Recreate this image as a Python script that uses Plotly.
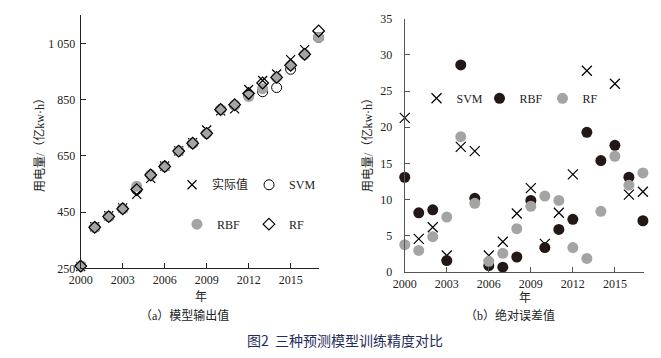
import plotly.graph_objects as go

# ---------------- data ----------------
years = list(range(2000, 2018))

# (a) model outputs, 亿kw·h
actual = [256, 398, 437, 465, 513, 570, 614, 668, 697, 742, 810, 817, 886, 918, 941, 992, 1028, 1075]
svm = [258, 396, 434, 462, 530, 582, 612, 667, 695, 730, 815, 830, 866, 878, 893, 958, 1011, 1071]
rbf = [258, 396, 434, 462, 542, 582, 612, 667, 695, 730, 815, 830, 861, 889, 929, 972, 1011, 1071]
rf = [258, 396, 434, 462, 530, 582, 612, 667, 695, 730, 815, 832, 872, 909, 929, 972, 1011, 1094]

# (b) absolute errors
svm_err = [21.3, 4.6, 6.2, 2.3, 17.3, 16.7, 2.3, 4.2, 8.1, 11.6, 3.9, 8.2, 13.5, 27.8, None, 26.0, 10.7, 11.1]
rbf_err = [13.1, 8.2, 8.6, 1.6, 28.6, 10.2, 0.9, 0.7, 2.1, 9.9, 3.4, 5.9, 7.3, 19.3, 15.4, 17.5, 13.1, 7.1]
rf_err = [3.8, 3.0, 4.9, 7.6, 18.7, 9.5, 1.5, 2.6, 6.0, 9.1, 10.5, 9.9, 3.4, 1.9, 8.4, 16.0, 12.0, 13.7]

x_ticks = [2000, 2003, 2006, 2009, 2012, 2015]
y1_ticks = [250, 450, 650, 850, 1050]
y1_ticktext = ["250", "450", "650", "850", "1 050"]
y2_ticks = [0, 5, 10, 15, 20, 25, 30, 35]

# ---------------- style ----------------
W, H = 661, 358
SERIF = '"Liberation Serif", "Times New Roman", "DejaVu Serif", serif'
CJK = '"Liberation Serif", "Times New Roman", "Noto Sans CJK SC", sans-serif'
GRAY = "#a4a4a4"
DARK = "#231815"


def px(x):
    return x / W


def py(y):
    return (H - y) / H


fig = go.Figure()

# ---- panel (a) ----
fig.add_trace(go.Scatter(x=years, y=actual, mode="markers", name="实际值",
                         marker=dict(symbol="x-thin", size=9, line=dict(width=1.2, color="black")),
                         xaxis="x", yaxis="y", legend="legend", cliponaxis=False))
fig.add_trace(go.Scatter(x=years, y=svm, mode="markers", name="SVM",
                         marker=dict(symbol="circle-open", size=10, color="black", line=dict(width=1)),
                         xaxis="x", yaxis="y", legend="legend", cliponaxis=False))
fig.add_trace(go.Scatter(x=years, y=rbf, mode="markers", name="RBF",
                         marker=dict(symbol="circle", size=11, color=GRAY),
                         xaxis="x", yaxis="y", legend="legend2", cliponaxis=False))
fig.add_trace(go.Scatter(x=years, y=rf, mode="markers", name="RF",
                         marker=dict(symbol="diamond-open", size=9, color="black", line=dict(width=1.2)),
                         xaxis="x", yaxis="y", legend="legend2", cliponaxis=False))

# ---- panel (b) ----
fig.add_trace(go.Scatter(x=years, y=svm_err, mode="markers", name="SVM",
                         marker=dict(symbol="x-thin", size=10, line=dict(width=1.2, color="black")),
                         xaxis="x2", yaxis="y2", legend="legend3", cliponaxis=False))
fig.add_trace(go.Scatter(x=years, y=rbf_err, mode="markers", name="RBF",
                         marker=dict(symbol="circle", size=11, color=DARK),
                         xaxis="x2", yaxis="y2", legend="legend3", cliponaxis=False))
fig.add_trace(go.Scatter(x=years, y=rf_err, mode="markers", name="RF",
                         marker=dict(symbol="circle", size=11, color=GRAY),
                         xaxis="x2", yaxis="y2", legend="legend3", cliponaxis=False))

axis_common = dict(showgrid=False, zeroline=False, showline=True, ticks="inside", ticklen=5,
                   tickfont=dict(family=SERIF, size=12, color="#222"))

fig.update_layout(
    width=W, height=H,
    margin=dict(l=0, r=0, t=0, b=0),
    paper_bgcolor="white", plot_bgcolor="white",
    showlegend=True,
    xaxis=dict(domain=[px(70), px(313)], range=[2000, 2017.05], tickvals=x_ticks,
               linecolor="#222", tickcolor="#222", anchor="y", **axis_common),
    yaxis=dict(domain=[py(272), py(8)], range=[250, 1152], tickvals=y1_ticks, ticktext=y1_ticktext,
               linecolor="#222", tickcolor="#222", anchor="x", ticklabelstandoff=2, **axis_common),
    xaxis2=dict(domain=[px(400), px(644)], range=[2000, 2017.1], tickvals=x_ticks,
                linecolor="#555", tickcolor="#555", anchor="y2", **axis_common),
    yaxis2=dict(domain=[py(276), py(12)], range=[0, 35], tickvals=y2_ticks,
                linecolor="#555", tickcolor="#555", anchor="x2", ticklabelstandoff=9, **axis_common),
    legend=dict(orientation="h", x=px(163), xanchor="left", y=py(185), yanchor="middle",
                entrywidth=32, entrywidthmode="pixels", bgcolor="rgba(0,0,0,0)",
                font=dict(family=CJK, size=12, color="#222"), traceorder="normal"),
    legend2=dict(orientation="h", x=px(168), xanchor="left", y=py(226), yanchor="middle",
                 entrywidth=27, entrywidthmode="pixels", bgcolor="rgba(0,0,0,0)",
                 font=dict(family=CJK, size=12, color="#222"), traceorder="normal"),
    legend3=dict(orientation="h", x=px(412), xanchor="left", y=py(95), yanchor="middle",
                 entrywidth=18, entrywidthmode="pixels", bgcolor="rgba(0,0,0,0)",
                 font=dict(family=CJK, size=12, color="#222"), traceorder="normal"),
)

annos = [
    dict(text="用电量/（亿kw·h）", x=px(28), y=py(140), textangle=-90, font=dict(size=12)),
    dict(text="用电量/（亿kw·h）", x=px(362), y=py(140), textangle=-90, font=dict(size=12)),
    dict(text="年", x=px(192), y=py(302), font=dict(size=12)),
    dict(text="年", x=px(522), y=py(303), font=dict(size=12)),
    dict(text="（a）模型输出值", x=px(176), y=py(321), font=dict(size=12)),
    dict(text="（b）绝对误差值", x=px(507), y=py(321), font=dict(size=12)),
    dict(text="图2\u00a0\u00a0三种预测模型训练精度对比", x=px(339), y=py(347),
         font=dict(size=14, family='"Noto Sans CJK SC", sans-serif', color="#1f2d5c")),
]
for a in annos:
    f = dict(family=CJK, color="#222")
    f.update(a.pop("font"))
    fig.add_annotation(xref="paper", yref="paper", showarrow=False, xanchor="center",
                       yanchor="middle", font=f, **a)

fig.write_html("out.html", config={"displayModeBar": False},
               post_script="document.body.style.margin='0';document.body.style.padding='0';")
